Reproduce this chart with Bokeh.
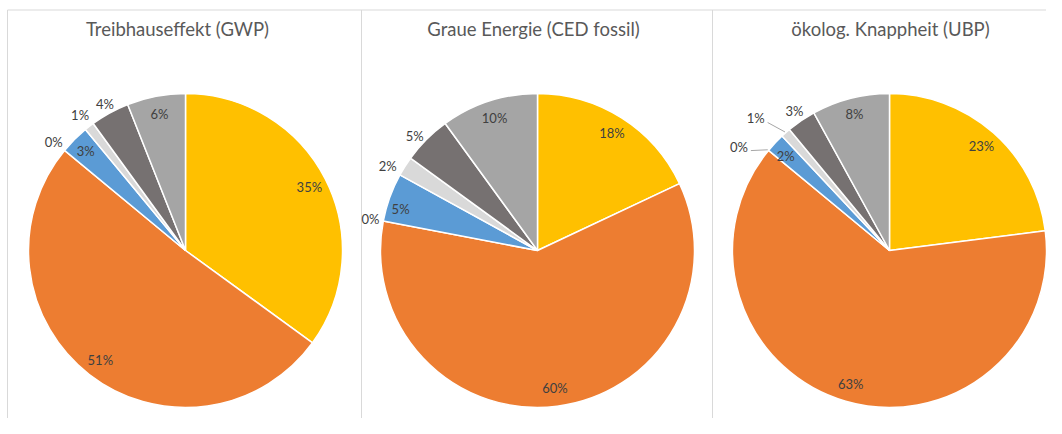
import math
from bokeh.plotting import figure
from bokeh.models import Range1d, ColumnDataSource
from bokeh.core.properties import value
from bokeh.embed import file_html
from bokeh.resources import INLINE

# ---- data ----
titles = ["Treibhauseffekt (GWP)", "Graue Energie (CED fossil)", "ökolog. Knappheit (UBP)"]
gwp = [35, 51, 0, 3, 1, 4, 6]
ced = [18, 60, 0, 5, 2, 5, 10]
ubp = [23, 63, 0, 2, 1, 3, 8]
colors = ["#FFC000", "#ED7D31", "#A5A5A5", "#5B9BD5", "#D9D9D9", "#767171", "#A5A5A5"]

# ---- layout / style ----
W, H = 1046, 418
centers_x = [185, 537, 889]
title_x = [177, 533, 890]
center_y = 434 - 250
R = 157
label_r = [
    [139, 139, 171, 141, 172, 167, 139],
    [139, 139, 170, 143, 172, 168, 139],
    [139, 139, 183, 140, 188, 169, 141],
]
label_shift = [
    [0, 0, 0, 0, 0, 0, 0],
    [0, 0, 0, 3, 3, 2, 0],
    [0, 0, 5, 1, 4, 0, 0],
]
leader = [
    [False] * 7,
    [False] * 7,
    [False, False, True, False, True, False, False],
]
all_vals = [gwp, ced, ubp]

p = figure(width=W, height=H, output_backend="svg", toolbar_location=None,
           x_range=Range1d(0, W), y_range=Range1d(434 - H, 434),
           min_border=0)
p.axis.visible = False
p.grid.visible = False
p.outline_line_color = None
p.background_fill_color = "white"
p.border_fill_color = "white"

# panel frames
p.segment(x0=[7, 7, 361, 712], y0=[434 - 9.5] * 4,
          x1=[1062, 7, 361, 712], y1=[434 - 9.5, -20, -20, -20],
          line_color="#D9D9D9", line_width=1)

for k, vals in enumerate(all_vals):
    cx = centers_x[k]
    total = sum(vals)
    cum = 0.0
    wx, wy, sa, ea, cols = [], [], [], [], []
    tx, ty, tt = [], [], []
    lx0, ly0, lx1, ly1 = [], [], [], []
    for i, v in enumerate(vals):
        c0 = cum / total
        cum += v
        c1 = cum / total
        a0 = math.pi / 2 - 2 * math.pi * c0
        a1 = math.pi / 2 - 2 * math.pi * c1
        if v > 0:
            wx.append(cx); wy.append(center_y); sa.append(a0); ea.append(a1); cols.append(colors[i])
        mid = (a0 + a1) / 2
        la = mid + math.radians(label_shift[k][i])
        r = label_r[k][i]
        px = cx + r * math.cos(la)
        py = center_y + r * math.sin(la)
        tx.append(px); ty.append(py); tt.append(f"{round(v / total * 100)}%")
        if leader[k][i]:
            lx0.append(px + 12); ly0.append(py - 4)
            lx1.append(cx + (R + 1) * math.cos(mid)); ly1.append(center_y + (R + 1) * math.sin(mid))
    src = ColumnDataSource(dict(x=wx, y=wy, sa=sa, ea=ea, c=cols))
    p.wedge(x="x", y="y", radius=R, start_angle="sa", end_angle="ea", direction="clock",
            fill_color="c", line_color="white", line_width=1.5, source=src)
    if lx0:
        p.segment(x0=lx0, y0=ly0, x1=lx1, y1=ly1, line_color="#A6A6A6", line_width=1)
    p.text(x=tx, y=ty, text=tt, text_font=value("Lato"), text_font_size="13px",
           text_color="#404040", text_align="center", text_baseline="middle")
    p.text(x=[title_x[k]], y=[434 - 28], text=[titles[k]], text_font=value("Lato"),
           text_font_size="18.5px", text_color="#595959", text_align="center",
           text_baseline="middle")

open("out.html", "w").write(file_html(p, INLINE))
